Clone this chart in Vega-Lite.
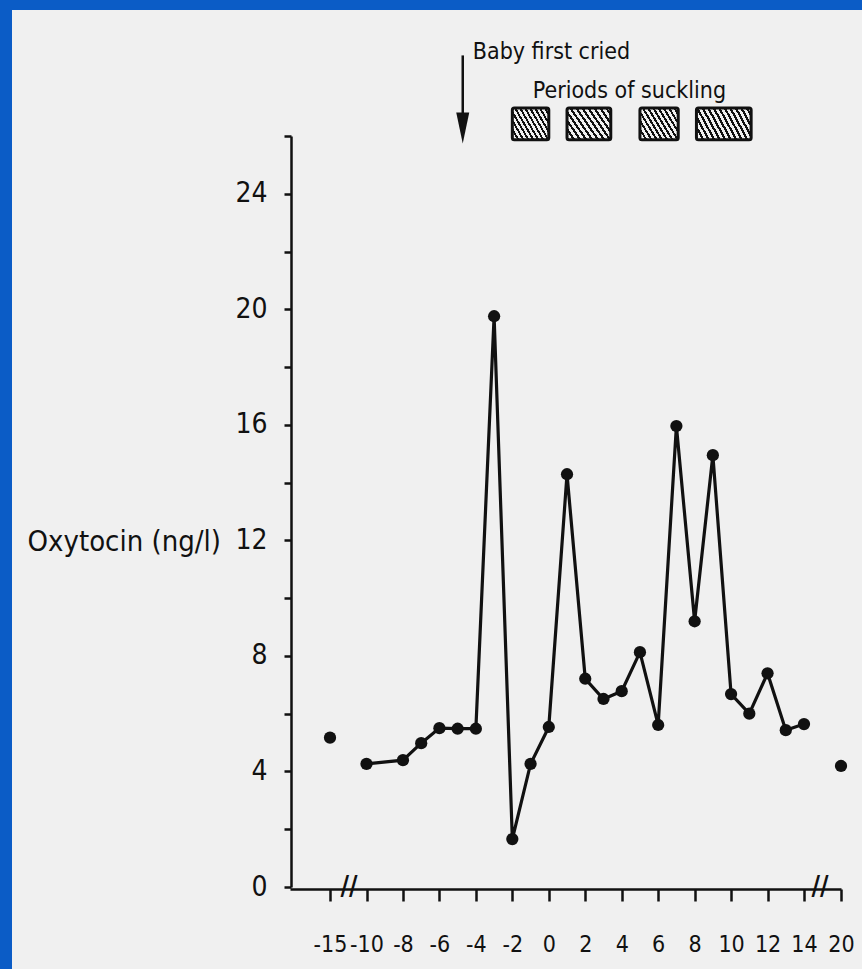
{
  "$schema": "https://vega.github.io/schema/vega-lite/v6.json",
  "width": 850,
  "height": 959,
  "autosize": {"type": "none"},
  "padding": {"left": 12, "top": 10, "right": 0, "bottom": 0},
  "background": "#0b5cc6",
  "view": {"fill": "#f0f0f0", "stroke": null},
  "config": {"font": "DejaVu Sans Condensed, DejaVu Sans, sans-serif"},
  "data": {
    "values": [
      {"t": -15, "oxytocin": 5.17},
      {"t": -10, "oxytocin": 4.26},
      {"t": -8, "oxytocin": 4.39},
      {"t": -7, "oxytocin": 4.98},
      {"t": -6, "oxytocin": 5.5},
      {"t": -5, "oxytocin": 5.48},
      {"t": -4, "oxytocin": 5.48},
      {"t": -3, "oxytocin": 19.76},
      {"t": -2, "oxytocin": 1.66},
      {"t": -1, "oxytocin": 4.26},
      {"t": 0, "oxytocin": 5.54},
      {"t": 1, "oxytocin": 14.29},
      {"t": 2, "oxytocin": 7.21},
      {"t": 3, "oxytocin": 6.51},
      {"t": 4, "oxytocin": 6.78},
      {"t": 5, "oxytocin": 8.13},
      {"t": 6, "oxytocin": 5.61},
      {"t": 7, "oxytocin": 15.96},
      {"t": 8, "oxytocin": 9.2},
      {"t": 9, "oxytocin": 14.95},
      {"t": 10, "oxytocin": 6.68},
      {"t": 11, "oxytocin": 6.0},
      {"t": 12, "oxytocin": 7.4},
      {"t": 13, "oxytocin": 5.43},
      {"t": 14, "oxytocin": 5.64},
      {"t": 20, "oxytocin": 4.19}
    ]
  },
  "layer": [
    {
      "transform": [{"filter": "datum.t >= -10 && datum.t <= 14"}],
      "mark": {"type": "line", "color": "#111111", "strokeWidth": 3.2},
      "encoding": {
        "x": {
          "field": "t",
          "type": "quantitative",
          "scale": {"domain": [-20, -15, -10, 14, 20], "range": [278, 318, 354.5, 792, 829], "nice": false, "zero": false},
          "axis": {
            "orient": "bottom",
            "offset": -80,
            "values": [-15, -10, -8, -6, -4, -2, 0, 2, 4, 6, 8, 10, 12, 14, 20],
            "labelExpr": "'' + datum.value",
            "grid": false,
            "title": null,
            "domainColor": "#111111",
            "domainWidth": 2.5,
            "tickColor": "#111111",
            "tickWidth": 2.5,
            "tickSize": 12,
            "labelColor": "#111111",
            "labelFontSize": 23,
            "labelBaseline": "alphabetic",
            "labelPadding": 50,
            "labelFlush": false,
            "labelOverlap": false
          }
        },
        "y": {
          "field": "oxytocin",
          "type": "quantitative",
          "scale": {"domain": [0, 26], "range": [877, 126], "nice": false, "zero": false},
          "axis": {
            "orient": "left",
            "offset": -279,
            "values": [0, 2, 4, 6, 8, 10, 12, 14, 16, 18, 20, 22, 24, 26],
            "labelExpr": "datum.value % 4 === 0 ? '' + datum.value : ''",
            "grid": false,
            "title": "Oxytocin (ng/l)",
            "titleAngle": 0,
            "titleAlign": "left",
            "titleBaseline": "alphabetic",
            "titleX": -264,
            "titleY": 540,
            "titleFontSize": 29,
            "titleFontWeight": "normal",
            "titleColor": "#111111",
            "domainColor": "#111111",
            "domainWidth": 2.5,
            "tickColor": "#111111",
            "tickWidth": 2.5,
            "tickSize": 7,
            "labelColor": "#111111",
            "labelFontSize": 28,
            "labelPadding": 17,
            "labelBaseline": "middle",
            "labelFlush": false,
            "labelOverlap": false
          }
        }
      }
    },
    {
      "mark": {"type": "circle", "size": 150, "color": "#111111", "opacity": 1},
      "encoding": {
        "x": {"field": "t", "type": "quantitative"},
        "y": {"field": "oxytocin", "type": "quantitative"}
      }
    },
    {
      "data": {"values": [{"t": -12.4}, {"t": 16.6}]},
      "mark": {"type": "text", "text": "//", "fontSize": 26, "fontWeight": "bold", "color": "#111111", "align": "center", "baseline": "middle"},
      "encoding": {
        "x": {"field": "t", "type": "quantitative"},
        "y": {"datum": 0, "type": "quantitative"}
      }
    },
    {
      "data": {"values": [{"start": -2, "end": 0}, {"start": 1, "end": 3.4}, {"start": 5, "end": 7.1}]},
      "mark": {
        "type": "rect",
        "stroke": "#111111",
        "strokeWidth": 3,
        "cornerRadius": 2,
        "fill": {
          "gradient": "linear",
          "x1": 0, "y1": 1, "x2": 1.2, "y2": 0.4,
          "stops": [
            {"offset": 0, "color": "#111111"}, {"offset": 0.04, "color": "#111111"}, {"offset": 0.04, "color": "#f0f0f0"}, {"offset": 0.0909, "color": "#f0f0f0"},
            {"offset": 0.0909, "color": "#111111"}, {"offset": 0.1309, "color": "#111111"}, {"offset": 0.1309, "color": "#f0f0f0"}, {"offset": 0.1818, "color": "#f0f0f0"},
            {"offset": 0.1818, "color": "#111111"}, {"offset": 0.2218, "color": "#111111"}, {"offset": 0.2218, "color": "#f0f0f0"}, {"offset": 0.2727, "color": "#f0f0f0"},
            {"offset": 0.2727, "color": "#111111"}, {"offset": 0.3127, "color": "#111111"}, {"offset": 0.3127, "color": "#f0f0f0"}, {"offset": 0.3636, "color": "#f0f0f0"},
            {"offset": 0.3636, "color": "#111111"}, {"offset": 0.4036, "color": "#111111"}, {"offset": 0.4036, "color": "#f0f0f0"}, {"offset": 0.4545, "color": "#f0f0f0"},
            {"offset": 0.4545, "color": "#111111"}, {"offset": 0.4945, "color": "#111111"}, {"offset": 0.4945, "color": "#f0f0f0"}, {"offset": 0.5455, "color": "#f0f0f0"},
            {"offset": 0.5455, "color": "#111111"}, {"offset": 0.5855, "color": "#111111"}, {"offset": 0.5855, "color": "#f0f0f0"}, {"offset": 0.6364, "color": "#f0f0f0"},
            {"offset": 0.6364, "color": "#111111"}, {"offset": 0.6764, "color": "#111111"}, {"offset": 0.6764, "color": "#f0f0f0"}, {"offset": 0.7273, "color": "#f0f0f0"},
            {"offset": 0.7273, "color": "#111111"}, {"offset": 0.7673, "color": "#111111"}, {"offset": 0.7673, "color": "#f0f0f0"}, {"offset": 0.8182, "color": "#f0f0f0"},
            {"offset": 0.8182, "color": "#111111"}, {"offset": 0.8582, "color": "#111111"}, {"offset": 0.8582, "color": "#f0f0f0"}, {"offset": 0.9091, "color": "#f0f0f0"},
            {"offset": 0.9091, "color": "#111111"}, {"offset": 0.9491, "color": "#111111"}, {"offset": 0.9491, "color": "#f0f0f0"}, {"offset": 1, "color": "#f0f0f0"}
          ]
        }
      },
      "encoding": {
        "x": {"field": "start", "type": "quantitative"},
        "x2": {"field": "end"},
        "y": {"datum": 26.97, "type": "quantitative"},
        "y2": {"datum": 25.87}
      }
    },
    {
      "data": {"values": [{"start": 8.1, "end": 11.1}]},
      "mark": {
        "type": "rect",
        "stroke": "#111111",
        "strokeWidth": 3,
        "cornerRadius": 2,
        "fill": {
          "gradient": "linear",
          "x1": 0, "y1": 1, "x2": 1.196, "y2": 0.626,
          "stops": [
            {"offset": 0, "color": "#111111"}, {"offset": 0.035, "color": "#111111"}, {"offset": 0.035, "color": "#f0f0f0"}, {"offset": 0.0769, "color": "#f0f0f0"},
            {"offset": 0.0769, "color": "#111111"}, {"offset": 0.1119, "color": "#111111"}, {"offset": 0.1119, "color": "#f0f0f0"}, {"offset": 0.1538, "color": "#f0f0f0"},
            {"offset": 0.1538, "color": "#111111"}, {"offset": 0.1888, "color": "#111111"}, {"offset": 0.1888, "color": "#f0f0f0"}, {"offset": 0.2308, "color": "#f0f0f0"},
            {"offset": 0.2308, "color": "#111111"}, {"offset": 0.2658, "color": "#111111"}, {"offset": 0.2658, "color": "#f0f0f0"}, {"offset": 0.3077, "color": "#f0f0f0"},
            {"offset": 0.3077, "color": "#111111"}, {"offset": 0.3427, "color": "#111111"}, {"offset": 0.3427, "color": "#f0f0f0"}, {"offset": 0.3846, "color": "#f0f0f0"},
            {"offset": 0.3846, "color": "#111111"}, {"offset": 0.4196, "color": "#111111"}, {"offset": 0.4196, "color": "#f0f0f0"}, {"offset": 0.4615, "color": "#f0f0f0"},
            {"offset": 0.4615, "color": "#111111"}, {"offset": 0.4965, "color": "#111111"}, {"offset": 0.4965, "color": "#f0f0f0"}, {"offset": 0.5385, "color": "#f0f0f0"},
            {"offset": 0.5385, "color": "#111111"}, {"offset": 0.5735, "color": "#111111"}, {"offset": 0.5735, "color": "#f0f0f0"}, {"offset": 0.6154, "color": "#f0f0f0"},
            {"offset": 0.6154, "color": "#111111"}, {"offset": 0.6504, "color": "#111111"}, {"offset": 0.6504, "color": "#f0f0f0"}, {"offset": 0.6923, "color": "#f0f0f0"},
            {"offset": 0.6923, "color": "#111111"}, {"offset": 0.7273, "color": "#111111"}, {"offset": 0.7273, "color": "#f0f0f0"}, {"offset": 0.7692, "color": "#f0f0f0"},
            {"offset": 0.7692, "color": "#111111"}, {"offset": 0.8042, "color": "#111111"}, {"offset": 0.8042, "color": "#f0f0f0"}, {"offset": 0.8462, "color": "#f0f0f0"},
            {"offset": 0.8462, "color": "#111111"}, {"offset": 0.8812, "color": "#111111"}, {"offset": 0.8812, "color": "#f0f0f0"}, {"offset": 0.9231, "color": "#f0f0f0"},
            {"offset": 0.9231, "color": "#111111"}, {"offset": 0.9581, "color": "#111111"}, {"offset": 0.9581, "color": "#f0f0f0"}, {"offset": 1, "color": "#f0f0f0"}
          ]
        }
      },
      "encoding": {
        "x": {"field": "start", "type": "quantitative"},
        "x2": {"field": "end"},
        "y": {"datum": 26.97, "type": "quantitative"},
        "y2": {"datum": 25.87}
      }
    },
    {
      "data": {"values": [{"event": "Baby first cried", "t": -4.72}]},
      "mark": {"type": "rule", "color": "#111111", "strokeWidth": 2.5},
      "encoding": {
        "x": {"field": "t", "type": "quantitative"},
        "y": {"datum": 28.79, "type": "quantitative"},
        "y2": {"datum": 26.3}
      }
    },
    {
      "data": {"values": [{"event": "Baby first cried", "t": -4.72}]},
      "mark": {"type": "point", "shape": "M-0.42,-1L0.42,-1L0,1Z", "size": 961, "filled": true, "color": "#111111", "opacity": 1},
      "encoding": {
        "x": {"field": "t", "type": "quantitative"},
        "y": {"datum": 26.28, "type": "quantitative"}
      }
    },
    {
      "data": {"values": [{"label": "Baby first cried", "t": -4.17}]},
      "mark": {"type": "text", "fontSize": 23, "color": "#111111", "align": "left", "baseline": "alphabetic"},
      "encoding": {
        "x": {"field": "t", "type": "quantitative"},
        "y": {"datum": 28.68, "type": "quantitative"},
        "text": {"field": "label"}
      }
    },
    {
      "data": {"values": [{"label": "Periods of suckling", "t": -0.88}]},
      "mark": {"type": "text", "fontSize": 23, "color": "#111111", "align": "left", "baseline": "alphabetic"},
      "encoding": {
        "x": {"field": "t", "type": "quantitative"},
        "y": {"datum": 27.3, "type": "quantitative"},
        "text": {"field": "label"}
      }
    }
  ]
}
